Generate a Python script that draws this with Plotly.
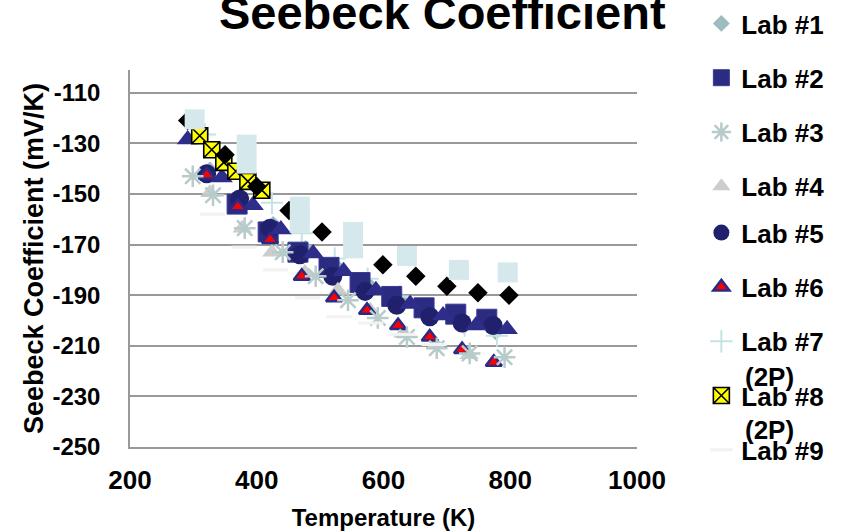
import plotly.graph_objects as go

# ---------------- data ----------------
lab1_x = [326, 376, 426, 477, 527, 577, 627, 677, 727, 777]
lab1_y = [-140.5, -151.5, -162, -171.5, -179, -186, -192, -197.5, -202, -204.5]

lab2_x = [369, 418, 465, 514, 563, 613, 664, 714, 763]
lab2_y = [-154, -165, -173, -179, -185, -190.5, -195, -197.5, -199.5]

lab3_x = [299, 331, 381, 441, 493, 544, 591, 637, 684, 736, 791]
lab3_y = [-143, -150.5, -163.5, -173, -182.5, -192, -199, -206.5, -211, -213, -214.5]

lab4_x = [326, 377, 424, 476, 528, 579, 631, 683, 735]
lab4_y = [-149.5, -163.5, -173, -181, -188, -196, -205, -209.5, -213.5]

lab5_x = [321, 373, 421, 468, 520, 571, 621, 673, 724, 773]
lab5_y = [-142, -152, -163.5, -174, -182.5, -188.5, -194, -198.5, -201, -202]

lab6_x = [321, 370, 421, 471, 522, 574, 623, 673, 724, 774]
lab6_y = [-142.5, -155, -168, -182.5, -191, -196, -202, -206.5, -211.5, -216.5]

lab7_x = [318, 374, 424, 471, 523, 575, 626, 676, 728, 779]
lab7_y = [-126.5, -140, -153.5, -165.5, -175.5, -183.5, -190.5, -197, -202, -206]

lab8_x = [310, 329, 348, 367, 386, 408]
lab8_y = [-127, -132.5, -137.5, -141, -145, -148.5]

lab9_x = [330, 380, 430, 480, 530, 580, 630, 680]
lab9_y = [-158, -171, -180, -191, -198.5, -201, -205.5, -209.5]

# series whose legend entries are cut off in the reference
lab10_x = [291, 350, 400, 451, 503, 599, 651, 700, 749, 798]
lab10_y = [-121, -134.5, -147, -156.5, -165, -178, -182.5, -186.5, -189, -190]

lab11_x = [302, 384, 384, 468, 468, 552, 552, 637, 719, 796]
lab11_y = [-120.5, -130.5, -138, -155, -161.5, -165, -171.5, -174.5, -180, -181]

lab12_x = [291, 345, 394, 438, 489, 537, 588, 642, 694, 746, 795]
lab12_y = [-128.5, -143.5, -154.5, -164, -173.5, -180.5, -188, -193.5, -198, -202, -203.5]

x_ticks = [200, 400, 600, 800, 1000]
y_ticks = [-250, -230, -210, -190, -170, -150, -130, -110]

FONT = "Liberation Sans, Arial, sans-serif"
LEG_FONT = dict(size=26, family=FONT, color="black")

fig = go.Figure()

def add(x, y, name, group, symbol, size, color, line_color=None, line_width=0,
        legend=True, legend_id="legend", rank=None):
    fig.add_trace(go.Scatter(
        x=x, y=y, mode="markers", name=f"<b>{name}</b>", legendgroup=group,
        showlegend=legend, legend=legend_id, legendrank=rank,
        marker=dict(symbol=symbol, size=size, color=color,
                    line=dict(color=line_color if line_color else color, width=line_width)),
    ))

add(lab1_x, lab1_y, "Lab #1", "g1", "diamond", 13, "#9cbcbd", rank=1)
add(lab7_x, lab7_y, "Lab #7", "g7", "cross-thin-open", 16, "#c6e2e7", "#c6e2e7", 2,
    legend_id="legend2", rank=7)
add(lab2_x, lab2_y, "Lab #2", "g2", "square", 20, "#2b2b82", "#3a3a95", 1, rank=2)
add(lab5_x, lab5_y, "Lab #5", "g5", "circle", 19, "#20206c", legend_id="legend2", rank=5)
add(lab12_x, lab12_y, "Lab #12", "g12", "triangle-up", 19, "#2e2e8a", legend=False)
add(lab4_x, lab4_y, "Lab #4", "g4", "triangle-up", 17, "#cdcdcd", rank=4)
add(lab6_x, lab6_y, "Lab #6", "g6", "triangle-up", 14, "#ff0000", "#2b2b86", 2.5,
    legend_id="legend2", rank=6)
add(lab3_x, lab3_y, "Lab #3", "g3", "asterisk-open", 18, "#b7cbcb", "#b7cbcb", 2.5, rank=3)
add(lab8_x, lab8_y, "Lab #8", "g8", "square-x", 16, "#ffff00", "#000000", 1.6,
    legend_id="legend2", rank=8)
add(lab9_x, lab9_y, "Lab #9", "g9", "line-ew-open", 18, "#f2f2f2", "#f2f2f2", 3,
    legend_id="legend2", rank=9)
add(lab10_x, lab10_y, "Lab #10", "g10", "diamond", 15, "#000000", legend=False)
add(lab11_x, lab11_y, "Lab #11", "g11", "square", 20, "#d5e9ed", legend=False)

legend_common = dict(xref="container", yref="container", x=0.831, xanchor="left",
                     yanchor="top", bgcolor="rgba(0,0,0,0)", tracegroupgap=17.5,
                     font=LEG_FONT)

fig.update_layout(
    width=844, height=531,
    margin=dict(l=130, r=207, t=70, b=84),
    paper_bgcolor="white", plot_bgcolor="white",
    font=dict(family=FONT, color="black", size=22),
    title=dict(text="<b>Seebeck Coefficient</b>", x=0.524, xref="container", xanchor="center",
               y=0.977, yref="container", yanchor="middle",
               font=dict(size=47, family=FONT, color="black")),
    showlegend=True,
    legend=dict(y=1.0394, **legend_common),
    legend2=dict(y=0.606, **legend_common),
)

fig.update_xaxes(
    range=[200, 1000], tickvals=x_ticks, ticktext=[f"<b>{v}</b>" for v in x_ticks],
    showgrid=False, zeroline=False, showline=True, linecolor="#999999", linewidth=1.5,
    ticks="", tickfont=dict(size=26, family=FONT, color="black"), ticklabelstandoff=9,
    automargin=False,
    title=dict(text="<b>Temperature (K)</b>", font=dict(size=24, family=FONT, color="black"), standoff=18),
)
fig.update_yaxes(
    range=[-250, -101], tickvals=y_ticks, ticktext=[f"<b>{v}</b>" for v in y_ticks],
    showgrid=True, gridcolor="#999999", gridwidth=1.5, zeroline=False,
    showline=True, linecolor="#999999", linewidth=1.5,
    ticks="", tickfont=dict(size=24, family=FONT, color="black"), ticklabelstandoff=23,
    automargin=False,
    title=dict(text="<b>Seebeck Coefficient (mV/K)</b>", font=dict(size=27, family=FONT, color="black"), standoff=1),
)

for yy in [0.186, 0.045]:
    fig.add_annotation(text="<b>(2P)</b>", xref="paper", yref="paper", x=1.209, y=yy,
                       xanchor="left", yanchor="middle", showarrow=False,
                       font=LEG_FONT)

fig.write_html("out.html")
